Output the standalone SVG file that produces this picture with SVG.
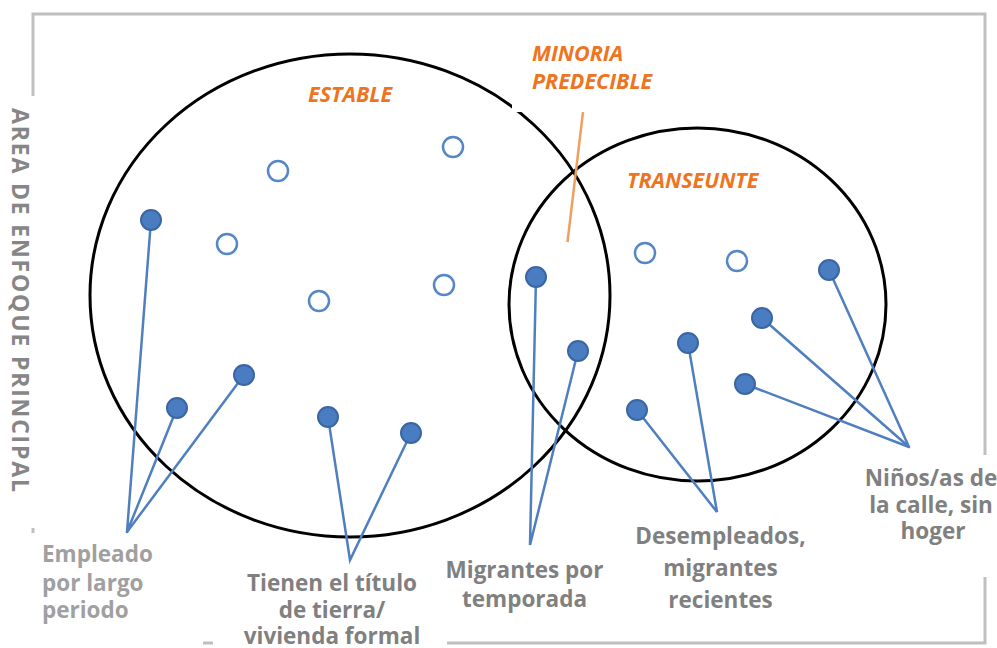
<svg xmlns="http://www.w3.org/2000/svg" width="997" height="648" viewBox="0 0 997 648">
<style>
.frame{fill:none;stroke:#BFBFBF;stroke-width:3}
.mask{fill:#FFFFFF;stroke:none}
.ring{fill:none;stroke:#000000;stroke-width:3}
.conn{stroke:#4F7FBF;stroke-width:2.5;fill:none;stroke-linecap:round}
.full{fill:#4A7CC2;stroke:#3A66A3;stroke-width:2}
.open{fill:#FFFFFF;stroke:#5587C6;stroke-width:2.5}
.lbl{font-family:"Open Sans","Liberation Sans",sans-serif;font-weight:700;font-size:22.5px;fill:#808080}
.lite{fill:#A0A0A0}
.org{font-family:"Open Sans","Liberation Sans",sans-serif;font-weight:700;font-style:italic;font-size:21.5px;fill:#EE7420}
.vert{font-family:"Open Sans","Liberation Sans",sans-serif;font-weight:700;font-size:23px;fill:#868686}
</style>
<rect class="frame" x="33" y="14" width="952" height="629"/>
<g id="areas">
<ellipse id="estable" class="ring" cx="350" cy="295.5" rx="260" ry="241.5"/>
<ellipse id="transeunte" class="ring" cx="697.5" cy="304.5" rx="188.5" ry="176.5"/>
</g>
<g id="masks">
<rect class="mask" x="0" y="96" width="46" height="432"/>
<rect class="mask" x="26" y="533" width="177" height="115"/>
<rect class="mask" x="213" y="562" width="234" height="86"/>
<rect class="mask" x="858" y="455" width="139" height="122"/>
<rect class="mask" x="512" y="24" width="160" height="88"/>
</g>
<line id="minoria-line" x1="583" y1="112" x2="567.5" y2="242" stroke="#EFA060" stroke-width="2.5"/>
<g id="connectors">
<polyline class="conn" points="151,220 127,532 177,408"/>
<line class="conn" x1="244" y1="375" x2="127" y2="532"/>
<polyline class="conn" points="328,417 350,560 411,433"/>
<polyline class="conn" points="536,277 530,545 578,351"/>
<polyline class="conn" points="637,410 717,512 688,343"/>
<polyline class="conn" points="829,270 909,447 762,318"/>
<line class="conn" x1="745" y1="384" x2="909" y2="447"/>
</g>
<g id="dots-estable">
<circle class="open" cx="278" cy="171" r="10"/>
<circle class="open" cx="453" cy="147" r="10"/>
<circle class="open" cx="227" cy="244" r="10"/>
<circle class="open" cx="319" cy="301" r="10"/>
<circle class="open" cx="444" cy="285" r="10"/>
<circle class="full" cx="151" cy="220" r="10"/>
<circle class="full" cx="244" cy="375" r="10"/>
<circle class="full" cx="177" cy="408" r="10"/>
<circle class="full" cx="328" cy="417" r="10"/>
<circle class="full" cx="411" cy="433" r="10"/>
</g>
<g id="dots-minoria">
<circle class="full" cx="536" cy="277" r="10"/>
<circle class="full" cx="578" cy="351" r="10"/>
</g>
<g id="dots-transeunte">
<circle class="open" cx="645" cy="253" r="10"/>
<circle class="open" cx="737" cy="261" r="10"/>
<circle class="full" cx="829" cy="270" r="10"/>
<circle class="full" cx="762" cy="318" r="10"/>
<circle class="full" cx="688" cy="343" r="10"/>
<circle class="full" cx="745" cy="384" r="10"/>
<circle class="full" cx="637" cy="410" r="10"/>
</g>
<g id="label-estable"><text class="org" x="308" y="102">ESTABLE</text></g>
<g id="label-minoria"><text class="org" x="532" y="61">MINORIA</text><text class="org" x="532" y="89">PREDECIBLE</text></g>
<g id="label-transeunte"><text class="org" x="627" y="188">TRANSEUNTE</text></g>
<g id="label-area"><text class="vert" transform="translate(12,108) rotate(90)" textLength="384" lengthAdjust="spacing">AREA DE ENFOQUE PRINCIPAL</text></g>
<g id="label-empleado"><text class="lbl lite" x="42" y="562">Empleado</text><text class="lbl lite" x="42" y="591">por largo</text><text class="lbl lite" x="42" y="618">periodo</text></g>
<g id="label-tienen" text-anchor="middle"><text class="lbl" x="332" y="591">Tienen el título</text><text class="lbl" x="332" y="618">de tierra/</text><text class="lbl" x="332" y="644">vivienda formal</text></g>
<g id="label-migrantes" text-anchor="middle"><text class="lbl" x="524.5" y="578">Migrantes por</text><text class="lbl" x="524.5" y="607">temporada</text></g>
<g id="label-desempleados" text-anchor="middle"><text class="lbl" x="720.5" y="544">Desempleados,</text><text class="lbl" x="720.5" y="576">migrantes</text><text class="lbl" x="720.5" y="608">recientes</text></g>
<g id="label-ninos" text-anchor="middle"><text class="lbl" x="931" y="486">Niños/as de</text><text class="lbl" x="931" y="513">la calle, sin</text><text class="lbl" x="933" y="539">hoger</text></g>
</svg>
